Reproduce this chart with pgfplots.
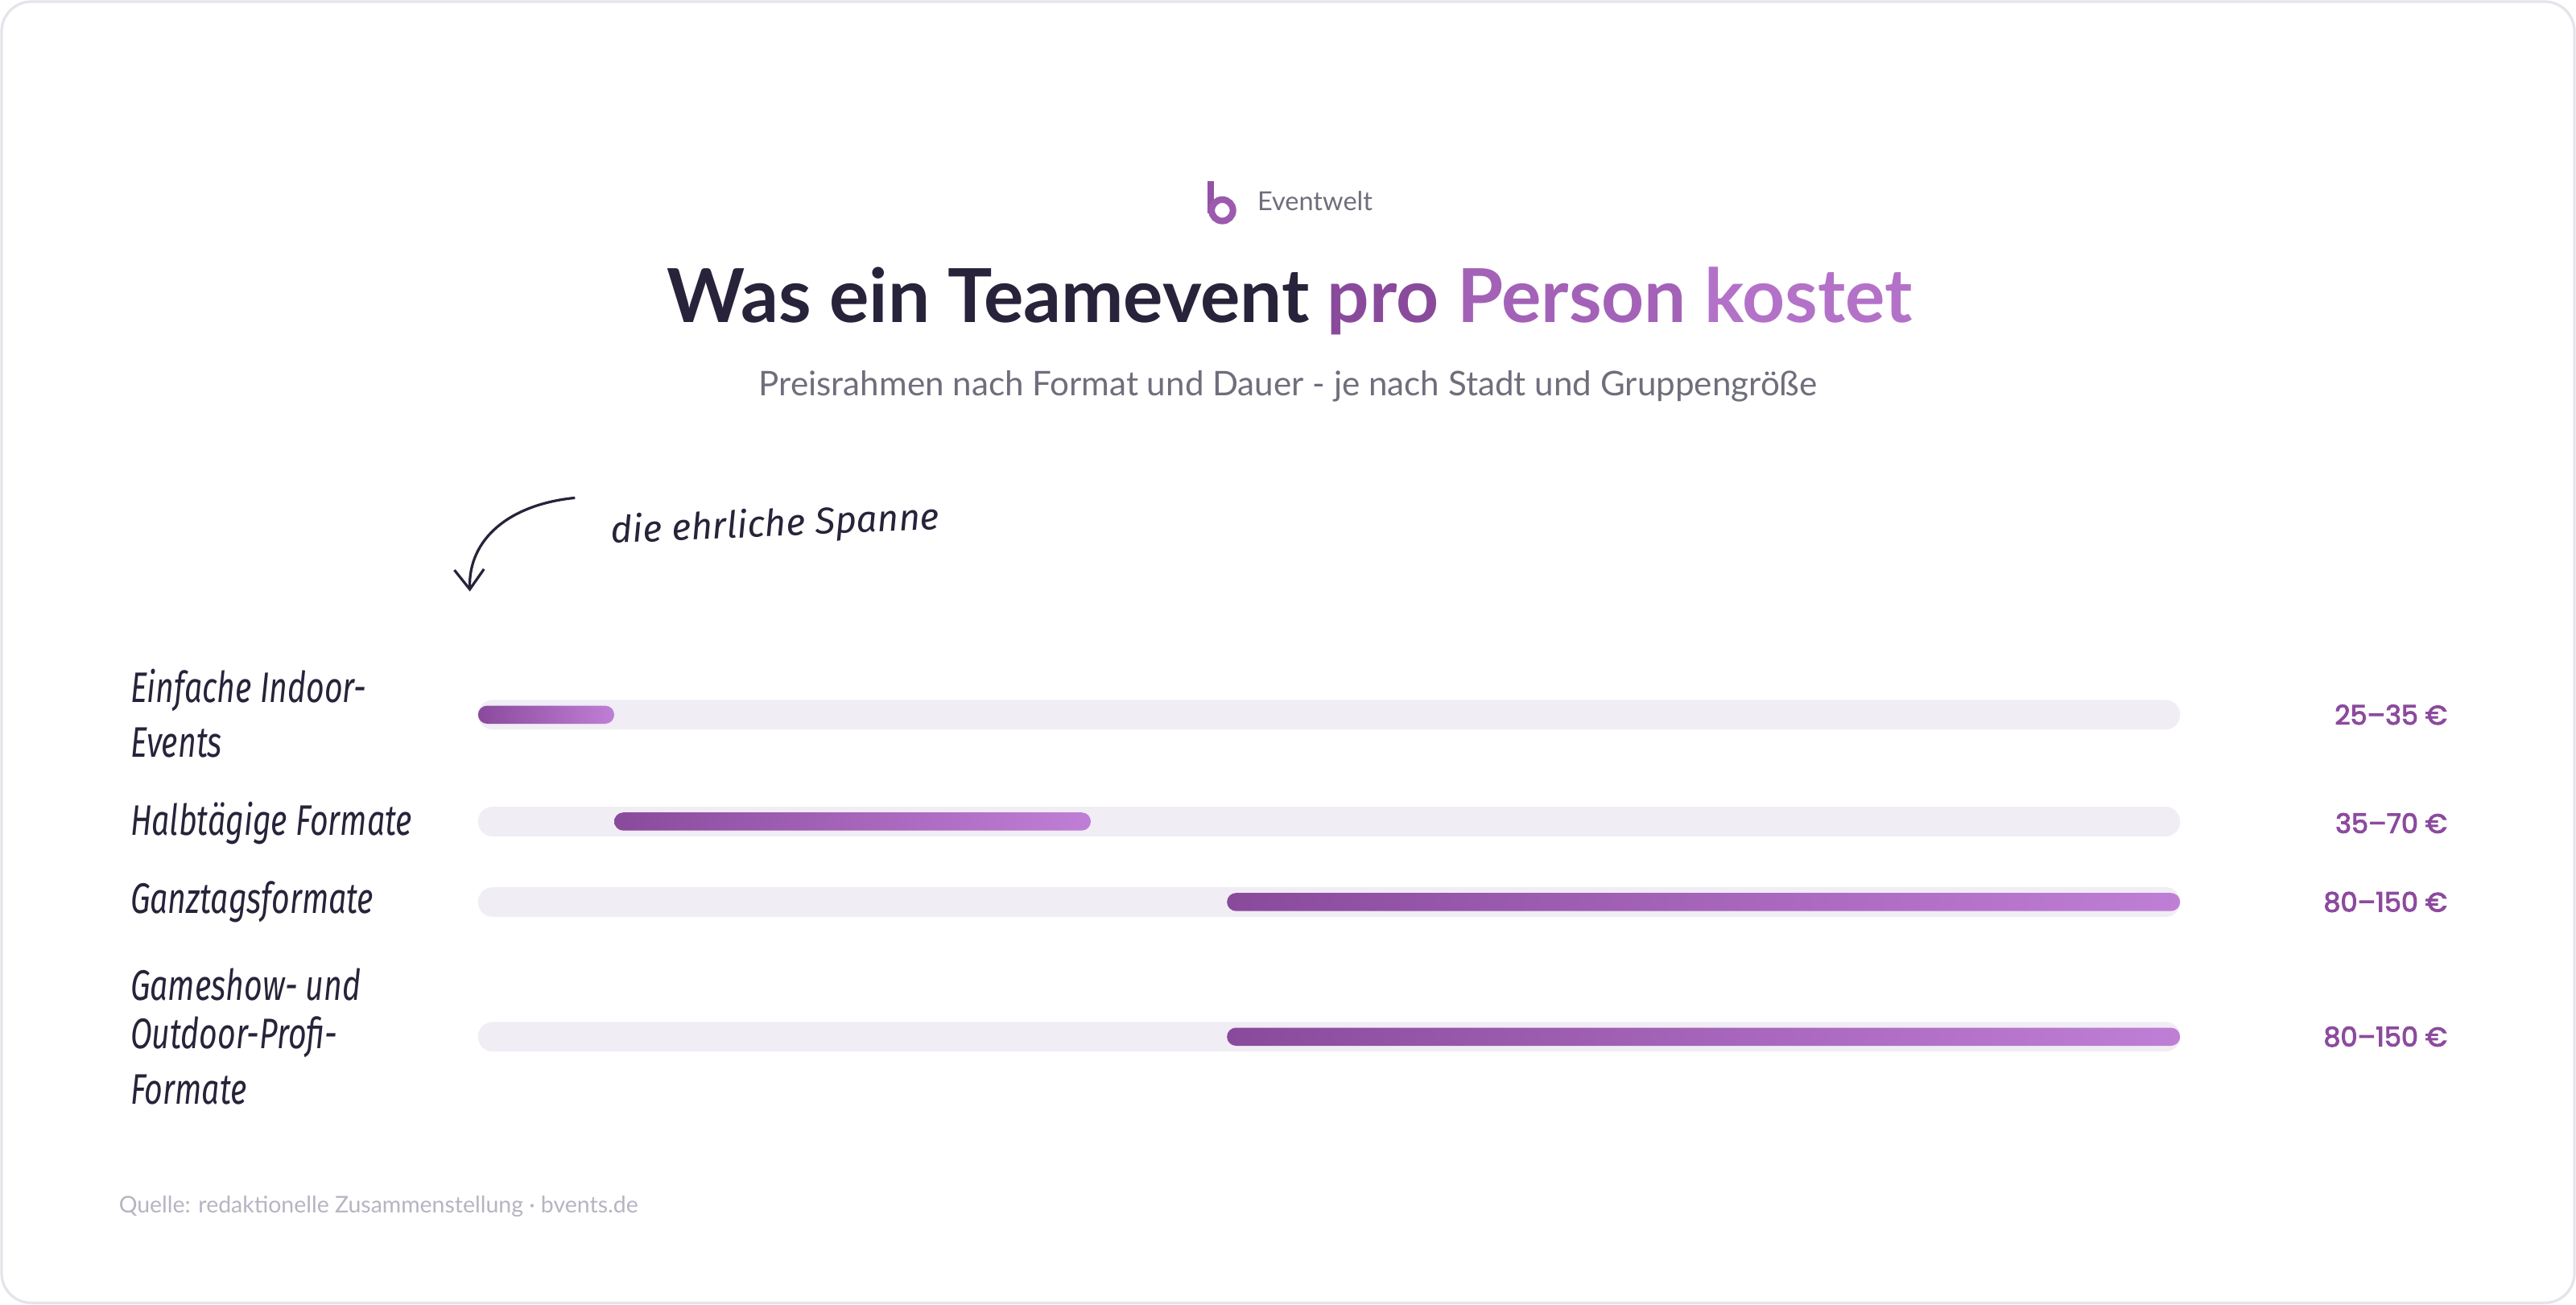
\documentclass[border=0pt]{standalone}
\usepackage{pgfplots}
\pgfplotsset{compat=1.18}
\usepackage{fontspec}
\setmainfont{Lato}
\newfontfamily\pop{Poppins}[FakeBold=3]
\newfontfamily\hand{Fira Sans}
\usetikzlibrary{arrows.meta}
\definecolor{dark}{HTML}{28233A}
\definecolor{purp}{HTML}{8C4A9E}
\definecolor{purpA}{HTML}{8A4A9C}
\definecolor{purpB}{HTML}{C07FD6}
\definecolor{trackc}{HTML}{F0EDF5}
\definecolor{subg}{HTML}{6E6E7C}
\definecolor{footg}{HTML}{B5B5C2}
\definecolor{borderc}{HTML}{E4E4EA}
\newcommand\hl[1]{\hand\itshape\fontsize{13}{15}\selectfont\scalebox{0.74}[1]{#1}}
\begin{document}
\begin{tikzpicture}[x=0.5pt,y=-0.5pt]
\path[use as bounding box] (0,0) rectangle (1568,794);
\draw[draw=borderc, fill=white, line width=0.8pt, rounded corners=9pt] (1,1) rectangle (1567,793);
% logo
\draw[color=purp!85!purpB, line width=2pt] (737,110) -- (737,130);
\draw[color=purp!70!purpB, line width=2pt] (744,128) circle (6.5);
\node[anchor=base west, inner sep=0, text=subg] at (765,128) {\resizebox{35pt}{!}{\fontsize{7}{8}\selectfont Eventwelt}};
% title
\node[anchor=base, inner sep=0] at (785,196) {\resizebox{379pt}{!}{\fontsize{22}{26}\selectfont\bfseries\textcolor{dark}{Was ein Teamevent} \textcolor{purpA}{pro} \textcolor{purp!55!purpB}{Person} \textcolor{purp!25!purpB}{kostet}}};
\node[anchor=base, inner sep=0, text=subg] at (784,241) {\resizebox{322pt}{!}{\fontsize{10}{12}\selectfont Preisrahmen nach Format und Dauer - je nach Stadt und Gruppengröße}};
% annotation
\node[rotate=2.5, inner sep=0, text=dark] at (472,320) {\resizebox{100pt}{!}{\hand\itshape\fontsize{12}{14}\selectfont die ehrliche Spanne}};
\draw[dark, line width=0.8pt, -{Straight Barb[length=6pt,width=9pt]}] (350,303) .. controls (310,307) and (285,328) .. (286,360);
% axis
\begin{axis}[at={(145.5pt,-350pt)}, anchor=south west, scale only axis,
  width=518pt, height=160pt, xmin=25, xmax=150, ymin=-700, ymax=-380,
  axis lines=none, clip=false]
% tracks (full scale 25-150)
\addplot[draw=none, fill=trackc, rounded corners=4.4pt] coordinates {(25,-444) (150,-444) (150,-426) (25,-426)} --cycle;
\addplot[draw=none, fill=trackc, rounded corners=4.4pt] coordinates {(25,-509) (150,-509) (150,-491) (25,-491)} --cycle;
\addplot[draw=none, fill=trackc, rounded corners=4.4pt] coordinates {(25,-558) (150,-558) (150,-540) (25,-540)} --cycle;
\addplot[draw=none, fill=trackc, rounded corners=4.4pt] coordinates {(25,-640) (150,-640) (150,-622) (25,-622)} --cycle;
% price ranges
\addplot[draw=none, left color=purpA, right color=purpB, rounded corners=2.75pt] coordinates {(25,-440.5) (35,-440.5) (35,-429.5) (25,-429.5)} --cycle;
\addplot[draw=none, left color=purpA, right color=purpB, rounded corners=2.75pt] coordinates {(35,-505.5) (70,-505.5) (70,-494.5) (35,-494.5)} --cycle;
\addplot[draw=none, left color=purpA, right color=purpB, rounded corners=2.75pt] coordinates {(80,-554.5) (150,-554.5) (150,-543.5) (80,-543.5)} --cycle;
\addplot[draw=none, left color=purpA, right color=purpB, rounded corners=2.75pt] coordinates {(80,-636.5) (150,-636.5) (150,-625.5) (80,-625.5)} --cycle;
\end{axis}
% row labels
\node[anchor=west, inner sep=0, text=dark] at (79,420) {\hl{Einfache Indoor-}};
\node[anchor=west, inner sep=0, text=dark] at (79,452) {\hl{Events}};
\node[anchor=west, inner sep=0, text=dark] at (79,501) {\hl{Halbtägige Formate}};
\node[anchor=west, inner sep=0, text=dark] at (79,549) {\hl{Ganztagsformate}};
\node[anchor=west, inner sep=0, text=dark] at (79,599) {\hl{Gameshow- und}};
\node[anchor=west, inner sep=0, text=dark] at (79,631) {\hl{Outdoor-Profi-}};
\node[anchor=west, inner sep=0, text=dark] at (79,663) {\hl{Formate}};
% value labels
\begin{scope}[every node/.style={anchor=east, inner sep=0, text=purp, font=\pop\fontsize{8.2}{9}\selectfont}]
\node at (1490,435) {25–35 €};
\node at (1490,501) {35–70 €};
\node at (1490,549) {80–150 €};
\node at (1490,631) {80–150 €};
\end{scope}
% footer
\node[anchor=base west, inner sep=0, text=footg] at (72,738) {\resizebox{158pt}{!}{\fontsize{7}{8}\selectfont Quelle: redaktionelle Zusammenstellung · bvents.de}};
\end{tikzpicture}
\end{document}
